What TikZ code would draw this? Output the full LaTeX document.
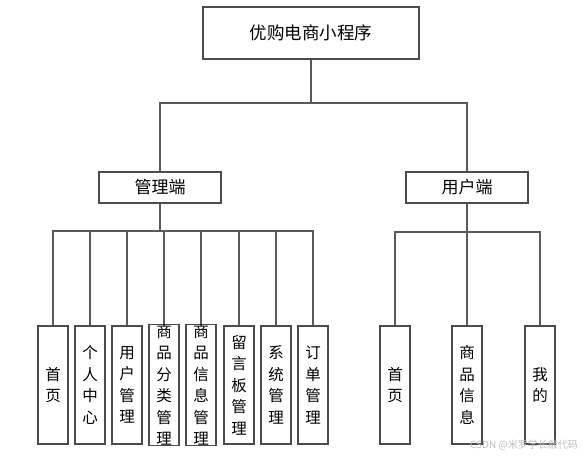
\documentclass[tikz,border=0pt]{standalone}
\usepackage{fontspec}
\newfontfamily\cjk{Noto Sans CJK SC}
\begin{document}
\begin{tikzpicture}[x=1pt,y=-1pt,
  box/.style={draw=black!70,line width=1.4pt,fill=white,inner sep=0pt,font=\cjk},
  topbox/.style={box,minimum width=216pt,minimum height=52pt,font=\cjk\fontsize{17.5}{20}\selectfont},
  midbox/.style={box,minimum width=122pt,minimum height=31pt,font=\cjk\fontsize{17}{19}\selectfont},
  leaf/.style={box,minimum width=30pt,minimum height=118pt,align=center,font=\cjk\fontsize{15.5}{21.5}\selectfont},
  conn/.style={draw=black!65,line width=1.2pt},
  wm/.style={font=\cjk\fontsize{10}{12}\selectfont,text=black!25,inner sep=0pt}]
\useasboundingbox (0,0) rectangle (586,456);
\fill[white] (0,0) rectangle (586,456);
% top
\node[topbox] (root) at (311,33) {优购电商小程序};
\node[midbox] (admin) at (160,187.5) {管理端};
\node[midbox] (user) at (467,187.5) {用户端};
% buses
\coordinate (b0) at (311,103);
\coordinate (b1) at (160,231);
\coordinate (b2) at (467,232);
% admin leaves
\node[leaf] (a1) at (53,385) {首\\页};
\node[leaf] (a2) at (90,385) {个\\人\\中\\心};
\node[leaf] (a3) at (127,385) {用\\户\\管\\理};
\node[leaf] (a4) at (164,385) {商\\品\\分\\类\\管\\理};
\node[leaf] (a5) at (201,385) {商\\品\\信\\息\\管\\理};
\node[leaf] (a6) at (239,385) {留\\言\\板\\管\\理};
\node[leaf] (a7) at (276,385) {系\\统\\管\\理};
\node[leaf] (a8) at (313,385) {订\\单\\管\\理};
% user leaves
\node[leaf] (u1) at (395,385) {首\\页};
\node[leaf] (u2) at (467,385) {商\\品\\信\\息};
\node[leaf] (u3) at (540,385) {我\\的};
% connectors
\path[conn] (root.south) -- (b0);
\path[conn] (b0) -| (admin.north);
\path[conn] (b0) -| (user.north);
\path[conn] (admin.south) -- (b1);
\foreach \n in {a1,a2,a3,a4,a5,a6,a7,a8}{\path[conn] (b1) -| (\n.north);}
\path[conn] (user.south) -- (b2);
\foreach \n in {u1,u2,u3}{\path[conn] (b2) -| (\n.north);}
% watermark
\node[wm] (w) at (524,445) {CSDN @米罗学长敲代码};
\end{tikzpicture}
\end{document}
